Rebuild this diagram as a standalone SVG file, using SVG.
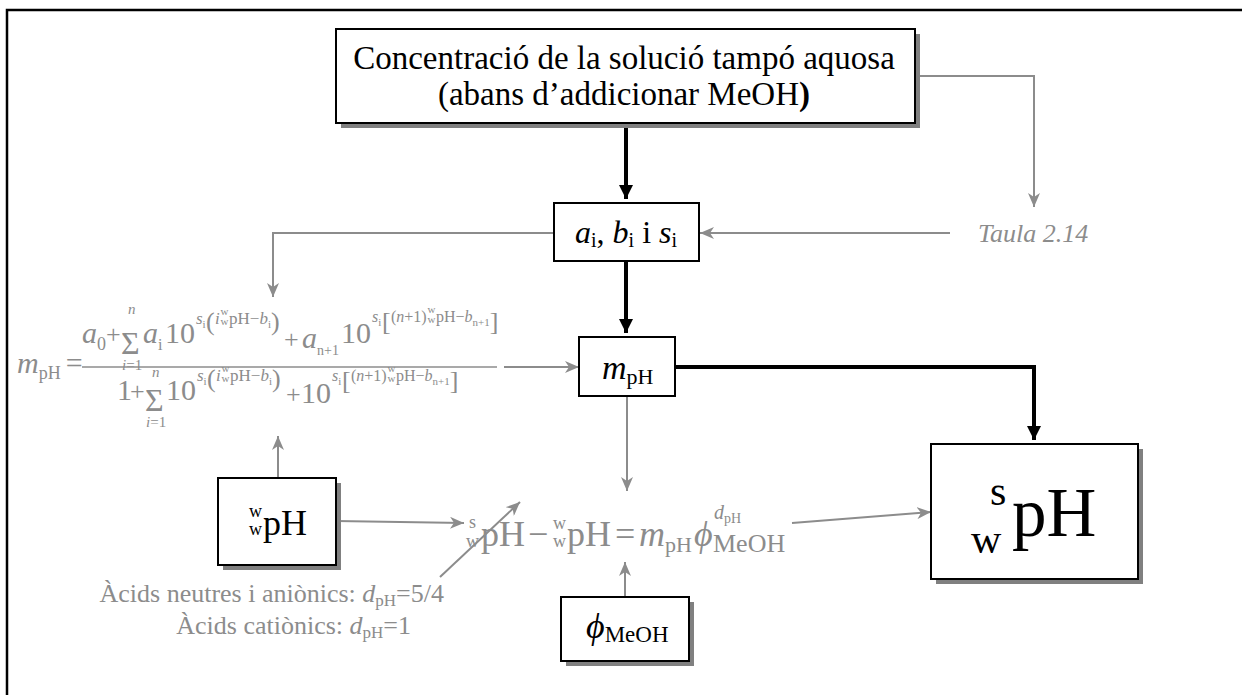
<svg xmlns="http://www.w3.org/2000/svg" width="1242" height="695" viewBox="0 0 1242 695">
<style>
text{font-family:"Liberation Serif","Times New Roman",serif}
.k{fill:#000}
.g{fill:#8c8c8c}
.it{font-style:italic}
.box{fill:#fff;stroke:#000;stroke-width:2}
.sh{fill:#808080}
.lk{fill:none;stroke:#000;stroke-width:4}
.lg{fill:none;stroke:#8c8c8c;stroke-width:2}
.s17{font-size:17px}
.s16{font-size:16px}
.s11{font-size:11px}
.p26{font-size:26px}
.b30{font-size:30px}
.sig{font-size:32px}
</style>
<defs>
<marker id="ak" markerUnits="userSpaceOnUse" markerWidth="14" markerHeight="14" refX="14" refY="7" orient="auto"><path d="M0,0 L14,7 L0,14 z" fill="#000"/></marker>
<marker id="ag" markerUnits="userSpaceOnUse" markerWidth="14" markerHeight="12" refX="14" refY="6" orient="auto"><path d="M0,0 L14,6 L0,12 L4,6 z" fill="#8c8c8c"/></marker>
</defs>
<rect width="1242" height="695" fill="#fff"/>
<path d="M7,695 V10 H1242" fill="none" stroke="#000" stroke-width="2.5"/>

<g id="connectors">
<path class="lk" d="M626,123 V199" marker-end="url(#ak)"/>
<path class="lk" d="M626,261 V333" marker-end="url(#ak)"/>
<path class="lk" d="M675,367 H1034 V440" marker-end="url(#ak)"/>
<path class="lg" d="M920,76 H1034 V207" marker-end="url(#ag)"/>
<path class="lg" d="M950,233 H700" marker-end="url(#ag)"/>
<path class="lg" d="M554,233 H273 V297" marker-end="url(#ag)"/>
<path class="lg" d="M504,367 H579" marker-end="url(#ag)"/>
<path class="lg" d="M278,478 V436" marker-end="url(#ag)"/>
<path class="lg" d="M336,521 L464,523" marker-end="url(#ag)"/>
<path class="lg" d="M627,396 V491" marker-end="url(#ag)"/>
<path class="lg" d="M625,597 V562" marker-end="url(#ag)"/>
<path class="lg" d="M440,577 L520,502" marker-end="url(#ag)"/>
<path class="lg" d="M792,523 L931,512" marker-end="url(#ag)"/>
</g>

<g id="node-concentracio">
<rect class="sh" x="341" y="34" width="579" height="94"/>
<rect class="box" x="336" y="29" width="579" height="94"/>
<text class="k" x="624" y="69" font-size="33" text-anchor="middle">Concentració de la solució tampó aquosa</text>
<text class="k" x="624" y="105" font-size="33" text-anchor="middle">(abans d’addicionar MeOH<tspan font-weight="bold">)</tspan></text>
</g>

<g id="node-abs">
<rect class="box" x="554" y="203" width="145" height="58"/>
<text class="k" x="575" y="243" font-size="32"><tspan class="it">a</tspan><tspan font-size="20" dy="4">i</tspan><tspan dy="-4">, </tspan><tspan class="it">b</tspan><tspan font-size="20" dy="4">i</tspan><tspan dy="-4"> i </tspan><tspan class="it">s</tspan><tspan font-size="20" dy="4">i</tspan></text>
</g>

<g id="node-taula">
<text class="g it" x="978" y="242" font-size="26">Taula 2.14</text>
</g>

<g id="node-mph">
<rect class="box" x="579" y="337" width="96" height="59"/>
<text class="k" x="602" y="379" font-size="34"><tspan class="it">m</tspan><tspan font-size="22" dy="5">pH</tspan></text>
</g>

<g id="node-formula">
<text class="g" x="17" y="373" font-size="30"><tspan class="it">m</tspan><tspan font-size="18" dy="6">pH</tspan><tspan dy="-6" dx="5">=</tspan></text>
<line x1="82" y1="367" x2="497" y2="367" stroke="#8c8c8c" stroke-width="1.5"/>
<!-- numerator -->
<text class="g it b30" x="82" y="343">a</text>
<text class="g" x="97" y="350" font-size="18">0</text>
<text class="g p26" x="106" y="343">+</text>
<text class="g sig" x="121" y="354">Σ</text>
<text class="g it" x="128" y="314" font-size="15">n</text>
<text class="g" x="122" y="370" font-size="15"><tspan class="it">i</tspan>=1</text>
<text class="g it b30" x="143" y="343">a</text>
<text class="g s16" x="158" y="350">i</text>
<text class="g b30" x="165" y="343">10</text>
<text class="g it s17" x="196" y="324">s</text>
<text class="g s11" x="202.6" y="328">i</text>
<text class="g p26" x="206" y="330">(</text>
<text class="g it s17" x="215" y="324">i</text>
<text class="g s11" x="220.5" y="315">w</text>
<text class="g s11" x="220.5" y="325">w</text>
<text class="g s17" x="229" y="324">pH−</text>
<text class="g it s17" x="259.4" y="324">b</text>
<text class="g s11" x="267.9" y="328">i</text>
<text class="g p26" x="271" y="330">)</text>
<text class="g p26" x="284" y="348">+</text>
<text class="g it b30" x="302" y="348">a</text>
<text class="g" x="317" y="355" font-size="14">n+1</text>
<text class="g b30" x="341" y="343">10</text>
<text class="g it s16" x="372" y="322">s</text>
<text class="g s11" x="378.2" y="326">i</text>
<text class="g p26" x="382" y="330">[</text>
<text class="g s16" x="391" y="322">(<tspan class="it">n</tspan>+1)</text>
<text class="g s11" x="427.5" y="313">w</text>
<text class="g s11" x="427.5" y="323">w</text>
<text class="g s16" x="436" y="322">pH−</text>
<text class="g it s16" x="464.6" y="322">b</text>
<text class="g s11" x="472.6" y="326">n+1</text>
<text class="g p26" x="489.8" y="330">]</text>
<!-- denominator -->
<text class="g b30" x="117" y="400">1</text>
<text class="g p26" x="130" y="400">+</text>
<text class="g sig" x="145" y="411">Σ</text>
<text class="g it" x="152" y="377" font-size="15">n</text>
<text class="g" x="146" y="427" font-size="15"><tspan class="it">i</tspan>=1</text>
<text class="g b30" x="166" y="400">10</text>
<text class="g it s17" x="197" y="381">s</text>
<text class="g s11" x="203.6" y="385">i</text>
<text class="g p26" x="207" y="387">(</text>
<text class="g it s17" x="216" y="381">i</text>
<text class="g s11" x="221.5" y="372">w</text>
<text class="g s11" x="221.5" y="382">w</text>
<text class="g s17" x="230" y="381">pH−</text>
<text class="g it s17" x="260.4" y="381">b</text>
<text class="g s11" x="268.9" y="385">i</text>
<text class="g p26" x="272" y="387">)</text>
<text class="g p26" x="286" y="403">+</text>
<text class="g b30" x="301" y="403">10</text>
<text class="g it s16" x="332" y="381">s</text>
<text class="g s11" x="338.2" y="385">i</text>
<text class="g p26" x="342" y="389">[</text>
<text class="g s16" x="351" y="381">(<tspan class="it">n</tspan>+1)</text>
<text class="g s11" x="387.5" y="372">w</text>
<text class="g s11" x="387.5" y="382">w</text>
<text class="g s16" x="396" y="381">pH−</text>
<text class="g it s16" x="424.6" y="381">b</text>
<text class="g s11" x="432.6" y="385">n+1</text>
<text class="g p26" x="449.8" y="389">]</text>
</g>

<g id="node-wph">
<rect class="sh" x="223" y="483" width="118" height="87"/>
<rect class="box" x="218" y="478" width="118" height="87"/>
<text class="k" x="249" y="517" font-size="18">w</text>
<text class="k" x="249" y="535" font-size="18">w</text>
<text class="k" x="263" y="535" font-size="36">pH</text>
</g>

<g id="node-equation">
<text class="g" x="469" y="528" font-size="18">s</text>
<text class="g" x="466" y="547" font-size="18">w</text>
<text class="g" x="481" y="546" font-size="36">pH</text>
<text class="g" x="528" y="546" font-size="36">−</text>
<text class="g" x="553" y="529" font-size="18">w</text>
<text class="g" x="553" y="547" font-size="18">w</text>
<text class="g" x="567" y="546" font-size="36">pH</text>
<text class="g" x="615" y="546" font-size="36">=</text>
<text class="g it" x="639" y="546" font-size="36">m</text>
<text class="g" x="665" y="552" font-size="22">pH</text>
<text class="g it" x="694" y="546" font-size="36">ϕ</text>
<text class="g it" x="714" y="519" font-size="20">d</text>
<text class="g" x="724" y="523" font-size="14">pH</text>
<text class="g" x="713" y="552" font-size="26">MeOH</text>
</g>

<g id="node-phi">
<rect class="sh" x="566" y="602" width="128" height="64"/>
<rect class="box" x="561" y="597" width="128" height="64"/>
<text class="k" x="586" y="638" font-size="36"><tspan class="it">ϕ</tspan><tspan font-size="23" dy="4">MeOH</tspan></text>
</g>

<g id="node-dph">
<text class="g" x="444" y="602" font-size="26" text-anchor="end">Àcids neutres i aniònics: <tspan class="it">d</tspan><tspan font-size="17" dy="4">pH</tspan><tspan dy="-4">=5/4</tspan></text>
<text class="g" x="411" y="634" font-size="26" text-anchor="end">Àcids catiònics: <tspan class="it">d</tspan><tspan font-size="17" dy="4">pH</tspan><tspan dy="-4">=1</tspan></text>
</g>

<g id="node-result">
<rect class="sh" x="936" y="449" width="207" height="135"/>
<rect class="box" x="931" y="444" width="207" height="135"/>
<text class="k" x="990" y="505" font-size="42">s</text>
<text class="k" x="971" y="553" font-size="42">w</text>
<text class="k" x="1012" y="536" font-size="69">pH</text>
</g>
</svg>
